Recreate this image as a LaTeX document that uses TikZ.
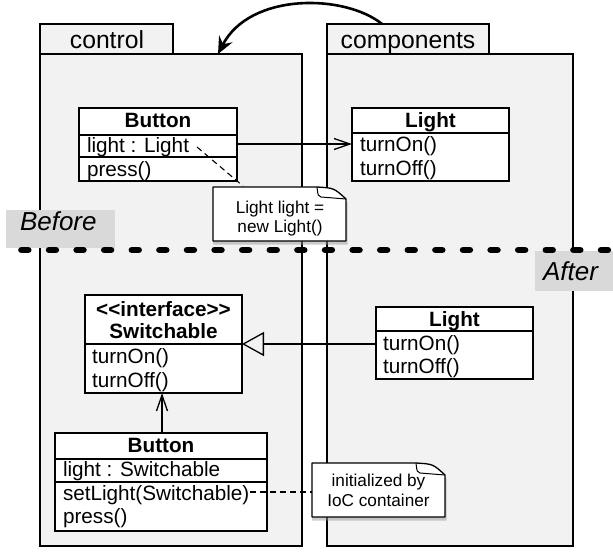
\documentclass[tikz,border=0pt]{standalone}
\usepackage{fontspec}
\newfontfamily\hv{Liberation Sans}
\usetikzlibrary{arrows.meta,calc}
\newcommand\NoteShape[1]{%
  \fill[black!40, opacity=0.5] ($(#1.north west)+(0,3)$) -- ($(#1.north east)+(-28,3)$) -- ($(#1.north east)+(1.5,15)$) -- ($(#1.south east)+(1.5,3.5)$) -- ($(#1.south west)+(0,3.5)$) -- cycle;
  \draw[line width=1.3pt, fill=white, line join=round] (#1.north west) -- ($(#1.north east)+(-29,0)$) .. controls ($(#1.north east)+(-12,1)$) .. ($(#1.north east)+(0,12)$) -- (#1.south east) -- (#1.south west) -- cycle;
  \draw[line width=1pt] ($(#1.north east)+(-29,0)$) .. controls ($(#1.north east)+(-28,9)$) .. ($(#1.north east)+(-25,10)$) -- ($(#1.north east)+(0,12)$);
}
\begin{document}
\begin{tikzpicture}[x=1pt,y=-1pt,
  pkg/.style={draw=black, fill=gray!10, line width=1.3pt, inner sep=0pt, outer sep=0pt, anchor=north west},
  cls/.style={draw=black, fill=white, line width=1.3pt, inner sep=0pt, outer sep=0pt, anchor=north west},
  ctxt/.style={inner sep=0pt, outer sep=0pt, anchor=base west, font=\hv\fontsize{20.7}{24}\selectfont},
  ctitle/.style={inner sep=0pt, outer sep=0pt, anchor=base, font=\hv\bfseries\fontsize{20.7}{24}\selectfont},
  ptxt/.style={inner sep=0pt, outer sep=0pt, anchor=base, font=\hv\fontsize{24.7}{28}\selectfont},
  ntxt/.style={inner sep=0pt, outer sep=0pt, anchor=base, font=\hv\fontsize{17.2}{20}\selectfont},
  phase/.style={inner sep=0pt, outer sep=0pt, anchor=north west, fill=gray!30},
  phtxt/.style={inner sep=0pt, outer sep=0pt, anchor=base west, font=\hv\itshape\fontsize{26}{30}\selectfont},
  notebox/.style={inner sep=0pt, outer sep=0pt, anchor=north west},
  divline/.style={line width=1.3pt},
  assoc/.style={line width=1.3pt, -{Straight Barb[length=16pt,width=11pt,line width=1.3pt]}},
  real/.style={line width=1.3pt, -{Triangle[open,length=22pt,width=24pt,line width=1.3pt]}},
  notelink/.style={line width=1.1pt, dash pattern=on 6pt off 4pt},
]
\useasboundingbox (0,0) rectangle (613,552);

% packages
\node[pkg, minimum width=133pt, minimum height=30pt] (ctrlTab) at (40,24) {};
\node[pkg, minimum width=262pt, minimum height=492pt] (ctrlBody) at (40,54) {};
\node[ptxt] (ctrlLbl) at (107,48) {control};
\node[pkg, minimum width=162pt, minimum height=30pt] (compTab) at (327,24) {};
\node[pkg, minimum width=246pt, minimum height=492pt] (compBody) at (327,54) {};
\node[ptxt] (compLbl) at (408,48) {components};

% phase labels
\node[phase, minimum width=109pt, minimum height=38pt] (beforeBox) at (6,210) {};
\node[phtxt] (beforeLbl) at (20,230) {Before};
\node[phase, minimum width=82pt, minimum height=40pt] (afterBox) at (535,251) {};
\node[phtxt] (afterLbl) at (543,280) {After};

% curved arrow
\coordinate (arrS) at ($(compTab.north west)+(55,0)$);
\coordinate (arrE) at ($(ctrlBody.north west)+(178,0)$);
\draw[line width=2.6pt, -{Stealth[length=17pt,width=15pt,inset=6pt]}] (arrS) .. controls (345,-6) and (250,-8) .. (arrE);

% ---- Before: Button
\node[cls, minimum width=158pt, minimum height=73pt] (btnA) at (79,108) {};
\draw[divline] (btnA.west |- 0,135) -- (btnA.east |- 0,135);
\draw[divline] (btnA.west |- 0,157) -- (btnA.east |- 0,157);
\node[ctitle] (btnAt) at (158,127) {Button};
\node[ctxt] (btnA1) at (87,152.5) {light : Light};
\node[ctxt] (btnA2) at (87,176) {press()};

% ---- Before: Light
\node[cls, minimum width=157pt, minimum height=73pt] (lightA) at (352,108) {};
\draw[divline] (lightA.west |- 0,133) -- (lightA.east |- 0,133);
\node[ctitle] (lightAt) at (430.5,127) {Light};
\node[ctxt] (lightA1) at (360,151) {turnOn()};
\node[ctxt] (lightA2) at (360,175) {turnOff()};

\draw[assoc] (btnA.east |- 0,144) -- (lightA.west |- 0,144);

% note 1
\node[notebox, minimum width=133pt, minimum height=54pt] (note1) at (213,187) {};
\coordinate (n1a) at (197,147);
\coordinate (n1b) at ($(note1.north west)+(30,-1)$);
\draw[notelink] (n1a) -- (n1b);
\NoteShape{note1}
\node[ntxt] (note1a) at (280,213) {Light light =};
\node[ntxt] (note1b) at (280,232) {new Light()};

% ---- After: Switchable
\node[cls, minimum width=157pt, minimum height=98pt] (sw) at (85,295) {};
\draw[divline] (sw.west |- 0,344) -- (sw.east |- 0,344);
\node[ctitle] (swt1) at (163.5,316.7) {<<interface>>};
\node[ctitle] (swt2) at (163.5,338) {Switchable};
\node[ctxt] (sw1) at (92,363) {turnOn()};
\node[ctxt] (sw2) at (92,387) {turnOff()};

% ---- After: Light
\node[cls, minimum width=157pt, minimum height=72pt] (lightB) at (376,307) {};
\draw[divline] (lightB.west |- 0,331) -- (lightB.east |- 0,331);
\node[ctitle] (lightBt) at (454.5,326) {Light};
\node[ctxt] (lightB1) at (383,350) {turnOn()};
\node[ctxt] (lightB2) at (383,373) {turnOff()};

\draw[real] (lightB.west |- 0,344) -- (sw.east |- 0,344);

% ---- After: Button
\node[cls, minimum width=212pt, minimum height=98pt] (btnB) at (55,433) {};
\draw[divline] (btnB.west |- 0,459) -- (btnB.east |- 0,459);
\draw[divline] (btnB.west |- 0,482) -- (btnB.east |- 0,482);
\node[ctitle] (btnBt) at (161,452.7) {Button};
\node[ctxt] (btnB1) at (63,476.7) {light : Switchable};
\node[ctxt] (btnB2) at (63,500) {setLight(Switchable)};
\node[ctxt] (btnB3) at (63,523) {press()};

\draw[assoc] (btnB.north -| 162,0) -- (sw.south -| 162,0);

% note 2
\node[notebox, minimum width=133pt, minimum height=54pt] (note2) at (312,463) {};
\coordinate (n2a) at (250,492);
\draw[notelink] (n2a) -- (note2.west |- n2a);
\NoteShape{note2}
\node[ntxt] (note2a) at (378.5,486.7) {initialized by};
\node[ntxt] (note2b) at (378.5,506.7) {IoC container};

% separator
\coordinate (sepL) at (21.5,250);
\coordinate (sepR) at (630,250);
\draw[line width=6.7pt, line cap=round, dash pattern=on 6.7pt off 20.9pt] (sepL) -- (sepR);
\end{tikzpicture}
\end{document}
